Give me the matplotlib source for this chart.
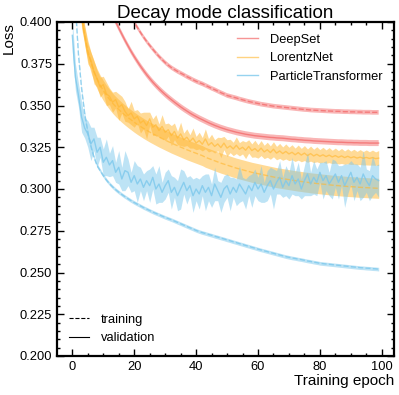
#!/usr/bin/env python3
import matplotlib
matplotlib.use("Agg")
import matplotlib.pyplot as plt
import numpy as np
from matplotlib.lines import Line2D
from matplotlib.ticker import MultipleLocator

# epochs 0..99
epochs = list(range(100))

models = ["DeepSet", "LorentzNet", "ParticleTransformer"]

deepset_train = [
    0.590, 0.558, 0.536, 0.518, 0.503, 0.490, 0.479, 0.469, 0.460, 0.452,
    0.445, 0.438, 0.432, 0.427, 0.422, 0.4175, 0.4135, 0.4097, 0.4062, 0.4030,
    0.4000, 0.3968, 0.3938, 0.3910, 0.3884, 0.3860, 0.3837, 0.3815, 0.3794, 0.3775,
    0.3757, 0.3741, 0.3727, 0.3715, 0.3704, 0.3694, 0.3684, 0.3673, 0.3664, 0.3654,
    0.3645, 0.3637, 0.3630, 0.3621, 0.3612, 0.3603, 0.3595, 0.3586, 0.3577, 0.3569,
    0.3560, 0.3555, 0.3550, 0.3545, 0.3539, 0.3534, 0.3529, 0.3524, 0.3520, 0.3516,
    0.3512, 0.3508, 0.3505, 0.3502, 0.3499, 0.3496, 0.3494, 0.3492, 0.3490, 0.3488,
    0.3486, 0.3484, 0.3482, 0.3480, 0.3478, 0.3476, 0.3475, 0.3473, 0.3472, 0.3471,
    0.3470, 0.3469, 0.3468, 0.3467, 0.3466, 0.3465, 0.3465, 0.3464, 0.3463, 0.3463,
    0.3462, 0.3462, 0.3461, 0.3461, 0.3460, 0.3460, 0.3460, 0.3459, 0.3459, 0.3459]
deepset_val = [
    0.600, 0.560, 0.530, 0.505, 0.485, 0.468, 0.454, 0.442, 0.432, 0.4235,
    0.4165, 0.4105, 0.4055, 0.4042, 0.4002, 0.3964, 0.3927, 0.3891, 0.3857, 0.3824,
    0.3793, 0.3764, 0.3736, 0.3710, 0.3685, 0.3662, 0.3640, 0.3620, 0.3601, 0.3583,
    0.3566, 0.3550, 0.3535, 0.3520, 0.3506, 0.3492, 0.3479, 0.3467, 0.3455, 0.3444,
    0.3434, 0.3424, 0.3415, 0.3406, 0.3397, 0.3389, 0.3381, 0.3374, 0.3367, 0.3361,
    0.3355, 0.3350, 0.3345, 0.3340, 0.3336, 0.3332, 0.3328, 0.3325, 0.3322, 0.3319,
    0.3317, 0.3315, 0.3313, 0.3311, 0.3309, 0.3308, 0.3306, 0.3305, 0.3304, 0.3302,
    0.3300, 0.3298, 0.3297, 0.3295, 0.3294, 0.3292, 0.3291, 0.3290, 0.3288, 0.3287,
    0.3286, 0.3285, 0.3284, 0.3283, 0.3282, 0.3281, 0.3280, 0.3280, 0.3279, 0.3278,
    0.3278, 0.3277, 0.3277, 0.3276, 0.3276, 0.3276, 0.3275, 0.3275, 0.3275, 0.3275]

lorentz_train = [
    0.500, 0.462, 0.430, 0.405, 0.392, 0.383, 0.3760, 0.3705, 0.3660, 0.3622,
    0.3590, 0.3562, 0.3537, 0.3514, 0.3494, 0.3476, 0.3459, 0.3443, 0.3428, 0.3414,
    0.3400, 0.3387, 0.3375, 0.3363, 0.3352, 0.3341, 0.3331, 0.3321, 0.3311, 0.3302,
    0.3293, 0.3284, 0.3275, 0.3267, 0.3259, 0.3251, 0.3243, 0.3235, 0.3228, 0.3221,
    0.3214, 0.3207, 0.3200, 0.3190, 0.3183, 0.3176, 0.3169, 0.3162, 0.3155, 0.3149,
    0.3143, 0.3137, 0.3131, 0.3125, 0.3120, 0.3115, 0.3110, 0.3105, 0.3100, 0.3096,
    0.3092, 0.3088, 0.3084, 0.3080, 0.3076, 0.3072, 0.3068, 0.3065, 0.3062, 0.3059,
    0.3056, 0.3053, 0.3050, 0.3047, 0.3045, 0.3042, 0.3040, 0.3037, 0.3035, 0.3033,
    0.3031, 0.3029, 0.3027, 0.3025, 0.3023, 0.3021, 0.3020, 0.3018, 0.3017, 0.3015,
    0.3014, 0.3013, 0.3011, 0.3010, 0.3009, 0.3008, 0.3007, 0.3006, 0.3005, 0.3004]
lorentz_val = [
    0.520, 0.470, 0.430, 0.402, 0.392, 0.381, 0.377, 0.370, 0.366, 0.361,
    0.3625, 0.357, 0.3555, 0.352, 0.3535, 0.349, 0.3505, 0.3465, 0.3440, 0.3455,
    0.3420, 0.3435, 0.3395, 0.3410, 0.3380, 0.3420, 0.3370, 0.3385, 0.3350, 0.3375,
    0.3340, 0.3355, 0.3320, 0.3345, 0.3305, 0.3330, 0.3295, 0.3310, 0.3285, 0.3305,
    0.3275, 0.3290, 0.3268, 0.3300, 0.3262, 0.3278, 0.3255, 0.3270, 0.3248, 0.3275,
    0.3245, 0.3258, 0.3240, 0.3262, 0.3238, 0.3250, 0.3232, 0.3255, 0.3230, 0.3242,
    0.3225, 0.3245, 0.3222, 0.3235, 0.3218, 0.3238, 0.3215, 0.3228, 0.3212, 0.3225,
    0.3210, 0.3220, 0.3205, 0.3218, 0.3203, 0.3215, 0.3200, 0.3212, 0.3198, 0.3208,
    0.3196, 0.3205, 0.3194, 0.3203, 0.3192, 0.3200, 0.3190, 0.3198, 0.3188, 0.3196,
    0.3187, 0.3193, 0.3185, 0.3191, 0.3184, 0.3189, 0.3183, 0.3188, 0.3182, 0.3185]

parT_train = [
    0.460, 0.410, 0.380, 0.360, 0.345, 0.334, 0.3255, 0.3190, 0.3140, 0.3110,
    0.3080, 0.3054, 0.3032, 0.3013, 0.2996, 0.2981, 0.2967, 0.2954, 0.2942, 0.2930,
    0.2919, 0.2909, 0.2899, 0.2889, 0.2880, 0.2871, 0.2862, 0.2854, 0.2846, 0.2838,
    0.2830, 0.2823, 0.2816, 0.2808, 0.2800, 0.2792, 0.2784, 0.2776, 0.2768, 0.2760,
    0.2752, 0.2745, 0.2739, 0.2734, 0.2728, 0.2723, 0.2717, 0.2712, 0.2706, 0.2701,
    0.2695, 0.2690, 0.2684, 0.2679, 0.2673, 0.2668, 0.2662, 0.2657, 0.2651, 0.2646,
    0.2640, 0.2635, 0.2630, 0.2625, 0.2620, 0.2615, 0.2610, 0.2605, 0.2600, 0.2595,
    0.2591, 0.2587, 0.2584, 0.2580, 0.2577, 0.2573, 0.2569, 0.2566, 0.2562, 0.2559,
    0.2555, 0.2553, 0.2551, 0.2549, 0.2547, 0.2545, 0.2543, 0.2541, 0.2539, 0.2537,
    0.2535, 0.2533, 0.2531, 0.2529, 0.2528, 0.2526, 0.2525, 0.2523, 0.2522, 0.2520]
parT_val = [
    0.392, 0.367, 0.356, 0.343, 0.3365, 0.333, 0.327, 0.330, 0.322, 0.325,
    0.316, 0.319, 0.3144, 0.317, 0.310, 0.313, 0.306, 0.311, 0.310, 0.304,
    0.308, 0.303, 0.306, 0.301, 0.305, 0.302, 0.307, 0.300, 0.303, 0.298,
    0.302, 0.305, 0.298, 0.301, 0.296, 0.300, 0.304, 0.299, 0.302, 0.296,
    0.300, 0.297, 0.302, 0.298, 0.301, 0.296, 0.303, 0.299, 0.295, 0.300,
    0.302, 0.297, 0.301, 0.298, 0.303, 0.300, 0.297, 0.302, 0.299, 0.304,
    0.300, 0.303, 0.298, 0.302, 0.305, 0.300, 0.304, 0.307, 0.301, 0.305,
    0.302, 0.308, 0.303, 0.306, 0.300, 0.305, 0.309, 0.303, 0.307, 0.304,
    0.310, 0.305, 0.308, 0.303, 0.306, 0.309, 0.304, 0.308, 0.302, 0.306,
    0.310, 0.304, 0.307, 0.303, 0.309, 0.305, 0.302, 0.308, 0.306, 0.305]

# spread over runs (one sigma)
deepset_train_std = 0.0014
deepset_val_std = 0.0018
lorentz_train_std = 0.0060
parT_train_std = 0.0011
lorentz_val_std = [
    0.006, 0.006, 0.005, 0.006, 0.005, 0.006, 0.005, 0.007, 0.005, 0.006,
    0.005, 0.007, 0.005, 0.006, 0.005, 0.008, 0.005, 0.006, 0.004, 0.007,
    0.005, 0.004, 0.006, 0.005, 0.008, 0.004, 0.005, 0.006, 0.004, 0.007,
    0.005, 0.004, 0.006, 0.005, 0.004, 0.007, 0.004, 0.005, 0.004, 0.006,
    0.004, 0.005, 0.004, 0.006, 0.004, 0.005, 0.004, 0.004, 0.006, 0.004,
    0.005, 0.004, 0.004, 0.005, 0.004, 0.004, 0.005, 0.004, 0.004, 0.005,
    0.004, 0.0045, 0.004, 0.0045, 0.004, 0.0045, 0.004, 0.0045, 0.004, 0.0045,
    0.004, 0.0045, 0.004, 0.0045, 0.004, 0.0045, 0.004, 0.0045, 0.004, 0.0045,
    0.004, 0.0045, 0.004, 0.0045, 0.004, 0.0045, 0.004, 0.0045, 0.004, 0.0045,
    0.004, 0.0045, 0.004, 0.0045, 0.004, 0.0045, 0.004, 0.0045, 0.004, 0.0045]
parT_val_std = [
    0.010, 0.008, 0.007, 0.009, 0.006, 0.008, 0.010, 0.007, 0.009, 0.006,
    0.008, 0.011, 0.007, 0.009, 0.006, 0.010, 0.007, 0.012, 0.008, 0.006,
    0.009, 0.011, 0.007, 0.008, 0.006, 0.010, 0.007, 0.009, 0.011, 0.006,
    0.008, 0.007, 0.010, 0.006, 0.009, 0.012, 0.007, 0.008, 0.006, 0.010,
    0.007, 0.009, 0.006, 0.011, 0.008, 0.007, 0.010, 0.006, 0.009, 0.008,
    0.007, 0.010, 0.006, 0.008, 0.011, 0.007, 0.009, 0.006, 0.010, 0.008,
    0.007, 0.011, 0.006, 0.009, 0.008, 0.012, 0.007, 0.010, 0.006, 0.009,
    0.008, 0.011, 0.007, 0.010, 0.006, 0.009, 0.013, 0.007, 0.010, 0.008,
    0.006, 0.011, 0.009, 0.007, 0.012, 0.008, 0.010, 0.006, 0.013, 0.009,
    0.007, 0.011, 0.008, 0.010, 0.014, 0.007, 0.009, 0.012, 0.008, 0.010]

colors = ["#f25c5c", "#ffb62e", "#7cc8ec"]
band_alpha = [0.45, 0.5, 0.5]
line_alpha = [0.65, 0.6, 0.8]


def draw_curve(ax, mean, std, color, ls, ba, la):
    x = np.array(epochs)
    y = np.array(mean)
    s = np.array(std) if np.ndim(std) else np.full(len(y), std)
    ax.fill_between(x, y - s, y + s, color=color, alpha=ba, lw=0)
    ax.plot(x, y, color=color, alpha=la, lw=1.0, ls=ls)


def main():
    plt.rcParams['font.family'] = ['Liberation Sans', 'DejaVu Sans']
    fig = plt.figure(figsize=(3.99, 3.95), dpi=100)
    ax = fig.add_axes([57 / 399, 1 - 356 / 395, (394 - 57) / 399, (356 - 22) / 395])

    series = [(deepset_train, deepset_train_std, deepset_val, deepset_val_std),
              (lorentz_train, lorentz_train_std, lorentz_val, lorentz_val_std),
              (parT_train, parT_train_std, parT_val, parT_val_std)]
    for (tr, tr_s, va, va_s), c, ba, la in zip(series, colors, band_alpha, line_alpha):
        draw_curve(ax, tr, tr_s, c, "--", ba, la)
        draw_curve(ax, va, va_s, c, "-", ba, la)

    ax.set_xlim(-4.95, 103.95)
    ax.set_ylim(0.2, 0.4)
    ax.xaxis.set_major_locator(MultipleLocator(20))
    ax.xaxis.set_minor_locator(MultipleLocator(5))
    ax.yaxis.set_major_locator(MultipleLocator(0.025))
    ax.yaxis.set_minor_locator(MultipleLocator(0.005))
    ax.tick_params(which="both", direction="in", top=True, right=True, labelsize=9.3)
    ax.tick_params(which="major", length=5, width=1)
    ax.tick_params(which="minor", length=2.5, width=1)
    for sp in ax.spines.values():
        sp.set_linewidth(1.6)

    ax.set_title("Decay mode classification", fontsize=13.5, pad=3)
    ax.set_xlabel("Training epoch", fontsize=11, loc="right", labelpad=1)
    ax.set_ylabel("Loss", fontsize=11, loc="top", labelpad=3)

    model_handles = [Line2D([], [], color=c, alpha=la, lw=1.0) for c, la in zip(colors, line_alpha)]
    leg1 = ax.legend(model_handles, models, loc="upper right", frameon=False,
                     fontsize=9.3, handlelength=1.6, handletextpad=0.9)
    ax.add_artist(leg1)
    style_handles = [Line2D([], [], color="black", lw=0.8, ls="--"),
                     Line2D([], [], color="black", lw=0.8, ls="-")]
    ax.legend(style_handles, ["training", "validation"], loc="lower left", frameon=False,
              fontsize=9.3, handlelength=1.6, handletextpad=0.9)

    fig.savefig("out.png", dpi=100)
    plt.close()


if __name__ == "__main__":
    main()
